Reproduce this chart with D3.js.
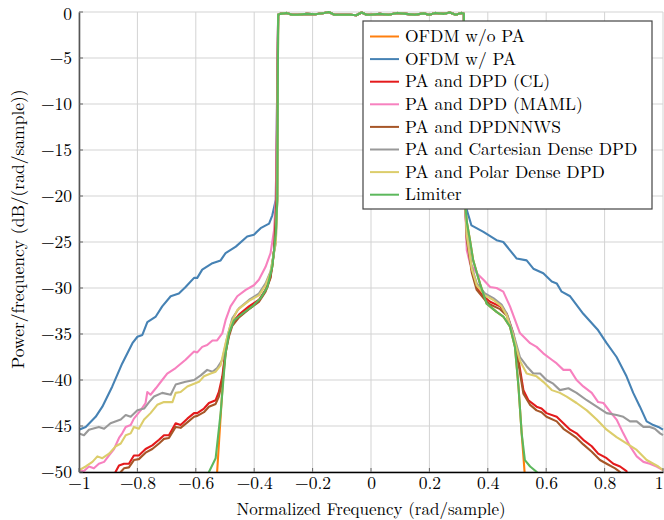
<!DOCTYPE html>
<html><head><meta charset="utf-8">
<script src="https://cdn.jsdelivr.net/npm/d3@7"></script>
<style>
body{margin:0;background:#fff;}
</style></head>
<body><svg id="c" width="664" height="520" font-family="Latin Modern Roman, serif"></svg>
<script>
// ---- data ----
const xTicks = [-1,-0.8,-0.6,-0.4,-0.2,0,0.2,0.4,0.6,0.8,1];
const yTicks = [0,-5,-10,-15,-20,-25,-30,-35,-40,-45,-50];
const seriesNames = ["OFDM w/o PA","OFDM w/ PA","PA and DPD (CL)","PA and DPD (MAML)","PA and DPDNNWS","PA and Cartesian Dense DPD","PA and Polar Dense DPD","Limiter"];
const seriesColors = ["#ff7f0e","#4682b4","#e41a1c","#f781bf","#a65628","#999999","#dccd6b","#5cb85c"];

// in-band (shared passband, read from the top plateau)
const band = [[-0.318,-0.3],[-0.31,-0.2],[-0.29,-0.1],[-0.27,-0.3],[-0.25,-0.3],[-0.22,-0.2],[-0.19,-0.25],[-0.16,-0.1],[-0.145,0],[-0.125,-0.3],[-0.1,-0.3],[-0.07,-0.3],[-0.05,-0.35],[-0.032,-0.05],[-0.015,-0.3],[0,-0.3],[0.03,-0.2],[0.06,-0.3],[0.09,-0.1],[0.12,-0.2],[0.15,-0.3],[0.18,-0.15],[0.2,-0.3],[0.22,-0.1],[0.25,-0.2],[0.27,-0.05],[0.29,-0.3],[0.31,-0.1],[0.318,-0.2]];

const woPA_L = [[-0.532,-52],[-0.527,-50],[-0.517,-45],[-0.507,-40],[-0.498,-37.1],[-0.486,-34.9],[-0.469,-33.5],[-0.441,-32.8],[-0.406,-32.0],[-0.378,-31.1],[-0.355,-29.9],[-0.338,-27.7],[-0.326,-24.1],[-0.321,-20.4]];
const woPA_R = [[0.322,-20.4],[0.328,-22.8],[0.339,-24.8],[0.350,-27.0],[0.373,-29.5],[0.396,-31.7],[0.430,-32.6],[0.453,-33.1],[0.476,-34.2],[0.493,-36.4],[0.505,-40.7],[0.516,-45.8],[0.526,-50],[0.53,-52]];

const wPA_L = [[-1,-45.4],[-0.977,-45.1],[-0.943,-44.0],[-0.92,-42.9],[-0.886,-40.7],[-0.852,-38.2],[-0.817,-36.0],[-0.80,-35.3],[-0.783,-35.1],[-0.766,-33.7],[-0.737,-33.1],[-0.715,-32.0],[-0.686,-30.9],[-0.658,-30.6],[-0.635,-29.9],[-0.606,-28.9],[-0.595,-28.9],[-0.578,-28.0],[-0.543,-27.3],[-0.515,-27.0],[-0.498,-26.2],[-0.463,-25.5],[-0.424,-24.4],[-0.401,-24.2],[-0.378,-23.5],[-0.349,-23.0],[-0.338,-22.1],[-0.326,-20.4]];
const wPA_R = [[0.324,-20.0],[0.328,-21.5],[0.344,-23.2],[0.385,-23.9],[0.430,-24.8],[0.453,-25.0],[0.499,-26.8],[0.533,-27.0],[0.556,-27.9],[0.590,-28.4],[0.619,-29.3],[0.636,-29.5],[0.653,-30.4],[0.682,-30.9],[0.727,-32.8],[0.778,-34.6],[0.807,-36.0],[0.841,-37.5],[0.875,-39.6],[0.898,-41.4],[0.921,-42.9],[0.944,-44.5],[0.967,-44.9],[0.984,-45.1],[1.0,-45.4]];

const cl_L = [[-0.89,-52],[-0.875,-50],[-0.863,-49.3],[-0.846,-49.1],[-0.829,-49.1],[-0.812,-48.2],[-0.795,-48.2],[-0.772,-47.5],[-0.749,-47.1],[-0.726,-46.5],[-0.709,-46.0],[-0.692,-46.0],[-0.669,-44.7],[-0.652,-44.9],[-0.629,-44.2],[-0.606,-43.6],[-0.595,-43.6],[-0.572,-43.1],[-0.555,-42.5],[-0.532,-42.2],[-0.521,-41.3],[-0.509,-39.6],[-0.498,-36.7],[-0.486,-34.9],[-0.475,-33.8],[-0.452,-32.9],[-0.418,-32.0],[-0.384,-31.3],[-0.361,-30.2],[-0.344,-28.8],[-0.332,-25.9],[-0.324,-20.4]];
const cl_R = [[0.322,-20.4],[0.328,-24.5],[0.345,-28.0],[0.362,-29.9],[0.385,-30.9],[0.408,-31.5],[0.442,-32.0],[0.465,-32.8],[0.487,-34.9],[0.505,-37.8],[0.522,-41.1],[0.539,-42.2],[0.567,-42.9],[0.584,-43.1],[0.601,-43.6],[0.636,-44.0],[0.659,-44.7],[0.682,-45.4],[0.704,-45.8],[0.727,-46.5],[0.756,-47.2],[0.778,-48.0],[0.807,-48.5],[0.830,-49.1],[0.853,-49.4],[0.875,-49.9],[0.885,-52]];

const maml_L = [[-1,-49.8],[-0.983,-49.9],[-0.966,-49.4],[-0.949,-49.6],[-0.932,-49.1],[-0.914,-48.9],[-0.897,-48.2],[-0.880,-47.5],[-0.863,-46.3],[-0.852,-45.8],[-0.840,-45.1],[-0.823,-44.9],[-0.812,-44.2],[-0.789,-43.3],[-0.772,-42.5],[-0.766,-41.3],[-0.755,-41.6],[-0.737,-40.9],[-0.715,-40.0],[-0.698,-39.3],[-0.669,-38.7],[-0.635,-37.8],[-0.606,-36.9],[-0.595,-37.0],[-0.578,-36.4],[-0.561,-36.2],[-0.543,-35.7],[-0.527,-35.7],[-0.509,-34.9],[-0.498,-33.5],[-0.481,-32.0],[-0.458,-30.9],[-0.429,-30.2],[-0.401,-29.7],[-0.384,-29.1],[-0.361,-27.7],[-0.344,-26.2],[-0.332,-23.7],[-0.326,-20.4]];
const maml_R = [[0.322,-20.4],[0.328,-25.9],[0.339,-27.3],[0.362,-28.4],[0.385,-29.1],[0.408,-29.9],[0.430,-30.0],[0.453,-30.4],[0.476,-32.0],[0.510,-34.9],[0.545,-36.0],[0.567,-36.4],[0.590,-37.1],[0.619,-37.8],[0.636,-38.2],[0.659,-38.9],[0.682,-38.9],[0.704,-40.0],[0.727,-40.7],[0.756,-41.4],[0.778,-42.4],[0.796,-42.5],[0.818,-43.4],[0.841,-44.3],[0.864,-45.8],[0.887,-47.2],[0.910,-48.3],[0.933,-48.9],[0.955,-49.1],[0.978,-49.4],[1.0,-49.8]];

const nnws_L = [[-0.87,-52],[-0.857,-50],[-0.846,-49.6],[-0.829,-49.5],[-0.812,-48.7],[-0.795,-48.6],[-0.772,-47.9],[-0.749,-47.5],[-0.726,-46.9],[-0.709,-46.4],[-0.692,-46.3],[-0.669,-45.1],[-0.652,-45.2],[-0.629,-44.6],[-0.606,-44.0],[-0.595,-43.9],[-0.572,-43.5],[-0.555,-42.9],[-0.532,-42.6],[-0.521,-41.8],[-0.509,-40.0],[-0.498,-37.0],[-0.486,-35.2],[-0.475,-34.1],[-0.452,-33.2],[-0.418,-32.3],[-0.384,-31.5],[-0.361,-30.4],[-0.344,-28.9],[-0.332,-26.0],[-0.324,-20.4]];
const nnws_R = [[0.322,-20.4],[0.328,-24.7],[0.345,-28.3],[0.362,-30.2],[0.390,-31.3],[0.408,-31.8],[0.442,-32.3],[0.465,-33.0],[0.487,-35.2],[0.505,-38.2],[0.522,-41.5],[0.545,-42.7],[0.567,-43.3],[0.584,-43.5],[0.601,-44.0],[0.636,-44.5],[0.659,-45.3],[0.682,-45.8],[0.704,-46.3],[0.727,-47.0],[0.756,-47.8],[0.784,-48.7],[0.807,-49.1],[0.836,-49.6],[0.853,-50],[0.86,-52]];

const cart_L = [[-1,-45.8],[-0.983,-46.0],[-0.966,-45.4],[-0.932,-45.1],[-0.914,-45.3],[-0.892,-44.7],[-0.857,-44.3],[-0.84,-43.8],[-0.823,-44.0],[-0.80,-43.3],[-0.777,-43.1],[-0.760,-42.4],[-0.743,-41.8],[-0.715,-41.4],[-0.686,-41.6],[-0.669,-40.5],[-0.635,-40.2],[-0.606,-40.0],[-0.583,-39.5],[-0.561,-38.9],[-0.543,-39.1],[-0.527,-38.7],[-0.509,-37.8],[-0.492,-35.3],[-0.475,-33.3],[-0.452,-32.2],[-0.418,-31.3],[-0.384,-30.6],[-0.361,-29.5],[-0.344,-28.2],[-0.326,-25.1],[-0.321,-20.4]];
const cart_R = [[0.322,-20.4],[0.328,-24.1],[0.345,-27.7],[0.362,-29.5],[0.390,-30.6],[0.419,-31.1],[0.447,-31.8],[0.465,-32.8],[0.487,-34.9],[0.510,-37.5],[0.533,-38.5],[0.556,-39.3],[0.579,-39.3],[0.601,-40.0],[0.624,-40.4],[0.647,-41.1],[0.676,-40.9],[0.704,-41.4],[0.739,-42.2],[0.773,-42.9],[0.807,-43.6],[0.841,-43.8],[0.864,-44.0],[0.887,-44.5],[0.910,-44.5],[0.933,-45.1],[0.955,-45.1],[0.972,-45.3],[0.990,-45.8],[1.0,-46.0]];

const polar_L = [[-1,-49.8],[-0.977,-49.4],[-0.954,-48.9],[-0.937,-48.3],[-0.92,-48.5],[-0.897,-48.0],[-0.874,-47.2],[-0.857,-46.9],[-0.84,-46.0],[-0.823,-45.8],[-0.812,-45.1],[-0.795,-45.3],[-0.777,-44.3],[-0.755,-43.6],[-0.732,-42.7],[-0.709,-42.4],[-0.680,-42.4],[-0.669,-41.4],[-0.652,-41.3],[-0.629,-40.7],[-0.606,-40.4],[-0.589,-40.2],[-0.572,-39.6],[-0.549,-39.3],[-0.532,-39.1],[-0.515,-38.4],[-0.498,-36.0],[-0.481,-34.0],[-0.458,-32.4],[-0.418,-31.4],[-0.384,-30.8],[-0.361,-29.7],[-0.344,-28.3],[-0.326,-25.0],[-0.321,-20.4]];
const polar_R = [[0.322,-20.4],[0.328,-24.2],[0.345,-27.9],[0.362,-29.7],[0.390,-30.8],[0.419,-31.3],[0.447,-32.0],[0.465,-33.0],[0.487,-35.2],[0.510,-37.9],[0.533,-39.3],[0.567,-39.6],[0.590,-40.2],[0.619,-41.1],[0.647,-41.4],[0.670,-41.8],[0.704,-42.5],[0.739,-43.3],[0.773,-44.3],[0.807,-45.4],[0.841,-46.2],[0.875,-46.9],[0.910,-47.6],[0.944,-48.7],[0.967,-49.1],[0.984,-49.4],[1.0,-49.8]];

const lim_L = [[-0.562,-52],[-0.555,-50],[-0.532,-48.5],[-0.515,-43.6],[-0.498,-37.1],[-0.486,-34.9],[-0.469,-33.5],[-0.441,-32.8],[-0.406,-32.0],[-0.378,-31.1],[-0.355,-29.9],[-0.338,-27.7],[-0.326,-24.1],[-0.321,-20.4]];
const lim_R = [[0.322,-20.4],[0.328,-22.8],[0.339,-24.8],[0.350,-27.0],[0.373,-29.5],[0.396,-31.7],[0.430,-32.6],[0.453,-33.1],[0.476,-34.2],[0.493,-36.4],[0.505,-40.7],[0.516,-45.8],[0.527,-48.7],[0.545,-49.4],[0.568,-50],[0.575,-52]];

const seriesData = [
  woPA_L.concat(band, woPA_R),
  wPA_L.concat(band, wPA_R),
  cl_L.concat(band, cl_R),
  maml_L.concat(band, maml_R),
  nnws_L.concat(band, nnws_R),
  cart_L.concat(band, cart_R),
  polar_L.concat(band, polar_R),
  lim_L.concat(band, lim_R)
];

// ---- chart ----
const FONT = "Latin Modern Roman, serif";
const FS = 17.5;
const svg = d3.select("#c");
const m = {l:79, r:1, t:12, b:48};
const W = 664, H = 520;
const x = d3.scaleLinear().domain([-1,1]).range([m.l, W-m.r]);
const y = d3.scaleLinear().domain([-50,0]).range([H-m.b, m.t]);

// grid
const g = svg.append("g");
g.selectAll(".gx").data(xTicks).join("line")
  .attr("x1",d=>x(d)).attr("x2",d=>x(d)).attr("y1",y(-50)).attr("y2",y(0))
  .attr("stroke","#d3d3d3").attr("stroke-width",1);
g.selectAll(".gy").data(yTicks).join("line")
  .attr("y1",d=>y(d)).attr("y2",d=>y(d)).attr("x1",x(-1)).attr("x2",x(1))
  .attr("stroke","#d3d3d3").attr("stroke-width",1);

// lines
svg.append("clipPath").attr("id","clip").append("rect")
  .attr("x",x(-1)).attr("y",y(0)-3).attr("width",x(1)-x(-1)+2).attr("height",y(-50)-y(0)+3);
const line = d3.line().x(d=>x(d[0])).y(d=>y(d[1]));
svg.append("g").attr("clip-path","url(#clip)")
  .selectAll("path").data(seriesData).join("path")
  .attr("d",line).attr("fill","none")
  .attr("stroke",(d,i)=>seriesColors[i]).attr("stroke-width",2.1)
  .attr("stroke-linejoin","round");

// axes
const fmt = d=>String(d).replace("-","\u2212");
const xAxis = d3.axisBottom(x).tickValues(xTicks).tickSize(0).tickPadding(3).tickFormat(fmt);
const xa = svg.append("g").attr("transform",`translate(0,${y(-50)})`).call(xAxis)
  .attr("font-family",FONT).attr("font-size",FS);
xa.select(".domain").attr("stroke","#000").attr("stroke-width",1.5);
xa.selectAll("text").attr("fill","#000").attr("dy","0.8em")
  .attr("text-anchor",d=>d===1?"end":"middle");
const yAxis = d3.axisLeft(y).tickValues(yTicks).tickSize(0).tickPadding(7).tickFormat(fmt);
const ya = svg.append("g").attr("transform",`translate(${x(-1)},0)`).call(yAxis)
  .attr("font-family",FONT).attr("font-size",FS);
ya.select(".domain").attr("stroke","#555").attr("stroke-width",1.6);
ya.selectAll("text").attr("fill","#000");
ya.selectAll(".tick").filter(d=>d===0).select("text").attr("dy","0.45em");

// small inner ticks
svg.append("g").selectAll("line").data(yTicks).join("line")
  .attr("x1",x(-1)).attr("x2",x(-1)+4).attr("y1",d=>y(d)).attr("y2",d=>y(d)).attr("stroke","#666");
svg.append("g").selectAll("line").data(xTicks).join("line")
  .attr("y1",y(-50)).attr("y2",y(-50)-4).attr("x1",d=>x(d)).attr("x2",d=>x(d)).attr("stroke","#666");

// axis labels
svg.append("text").attr("x",(x(-1)+x(1))/2).attr("y",515).attr("text-anchor","middle")
  .attr("font-family",FONT).attr("font-size",17).text("Normalized Frequency (rad/sample)");
svg.append("text").attr("transform","translate(24,229) rotate(-90)").attr("text-anchor","middle")
  .attr("font-family",FONT).attr("font-size",FS).text("Power/frequency (dB/(rad/sample))");

// legend
const lg = svg.append("g");
lg.append("rect").attr("x",363).attr("y",21).attr("width",289).attr("height",188)
  .attr("fill","#fff").attr("stroke","#444").attr("stroke-width",1.2);
const rows = lg.selectAll("g.row").data(seriesNames).join("g")
  .attr("transform",(d,i)=>`translate(0,${36.5 + i*22.6})`);
rows.append("line").attr("x1",370).attr("x2",399).attr("y1",0).attr("y2",0)
  .attr("stroke",(d,i)=>seriesColors[i]).attr("stroke-width",2);
rows.append("text").attr("x",405).attr("y",0).attr("dy","0.32em")
  .attr("font-family",FONT).attr("font-size",FS).text(d=>d);
</script></body></html>
